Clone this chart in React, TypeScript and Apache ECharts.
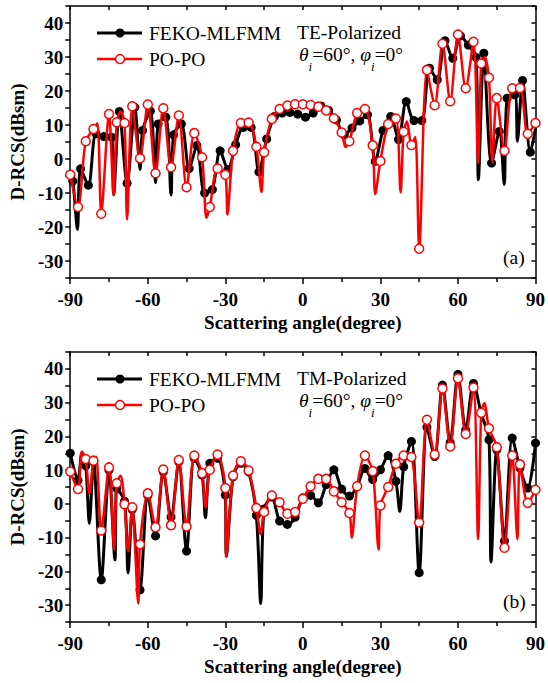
import React, { useEffect, useRef } from "react";
import * as echarts from "echarts";

// Marker angles (degrees)
const PO_ANGLES = [-90,-87,-84,-81,-78,-75,-72,-69,-66,-63,-60,-57,-54,-51,-48,-45,-42,-39,-36,-33,-30,-27,-24,-21,-18,-15,-12,-9,-6,-3,0,3,6,9,12,15,18,21,24,27,30,33,36,39,42,45,48,51,54,57,60,63,66,69,72,75,78,81,84,87,90];
const TE_FEKO_ANGLES = [-89,-86,-83,-80,-77,-74,-71,-68,-65,-62,-59,-56,-53,-50,-47,-44,-41,-38,-35,-32,-29,-26,-23,-20,-17,-14,-11,-8,-5,-2,1,4,7,10,13,16,19,22,25,28,31,34,37,40,43,46,49,52,55,58,61,64,67,70,73,76,79,82,85,88];
const TM_FEKO_ANGLES = PO_ANGLES;

// (a) TE-polarized
const TE_PO = [-4.6,-14.1,5.2,8.8,-16.1,13.2,10.8,10.6,15.5,0.2,16.0,-4.2,14.9,-2.4,12.8,-8.3,7.6,0.5,-14.1,-2.8,-4.6,2.4,10.6,10.7,3.6,2.0,11.8,14.7,15.7,16.1,16.1,15.9,15.4,14.3,12.0,7.8,5.2,13.5,14.7,4.0,-0.6,10.3,11.9,8.0,4.1,-26.4,26.2,15.8,33.9,17.0,36.6,20.8,34.5,28.1,23.9,17.9,2.4,20.8,20.9,7.4,10.6];
const TE_FEKO = [-6.5,-2.9,-7.7,7.4,6.6,6.4,14.0,-7.1,15.2,8.4,14.1,10.3,12.3,7.1,10.3,-2.8,4.0,-10.0,-9.0,2.4,-3.1,4.2,9.3,9.3,-3.8,5.9,12.5,13.5,13.7,13.2,12.3,13.5,15.6,14.3,11.5,7.1,9.1,11.2,13.0,-0.7,8.4,12.5,5.7,16.9,11.3,11.3,26.7,23.3,34.8,29.6,36.2,33.5,29.9,31.1,-1.2,8.1,17.9,18.9,23.1,2.0];
// curve points between markers (nulls / lobes): [angle, value]
const TE_PO_EXTRA = [[-79.5,10.5],[-73.2,-10.7],[-70.5,14],[-68,-17.8],[-37.3,-17.3],[-29.2,-16.3],[-16,-9.7],[16.5,3.5],[28,-10.3],[37.8,-9.8],[40.3,11],[43.5,6.5],[67.8,-1.2],[70.3,30],[73.3,-1]];
const TE_FEKO_EXTRA = [[-90,-6],[-87.2,-20.7],[-73.2,-10.5],[-63,-3.1],[-57,-7],[-51,-10.6],[67.9,-6.1],[77.9,-7.5],[83,5.2],[90,9]];

// (b) TM-polarized
const TM_PO = [9.6,4.4,13.3,12.8,-7.9,10.8,6.1,-0.1,-1.0,-12.0,3.1,-6.9,10.2,-6.3,13.0,-6.7,14.3,9.1,10.1,14.6,4.7,8.4,12.6,9.9,-1.2,-2.4,2.5,0.5,-2.9,-2.4,1.5,5.2,7.4,7.4,3.7,0.5,-2.7,5.2,14.3,9.7,-0.5,5.0,11.9,14.3,13.9,-5.5,24.9,14.6,34.2,17.0,37.2,20.7,34.5,27.0,22.4,16.8,-13.0,14.3,11.7,0.3,4.2];
const TM_FEKO = [15.0,7.0,11.3,12.5,-22.5,10.0,4.6,0.8,-1.7,-25.5,2.5,-9.5,9.5,-3.9,12.5,-14.0,13.5,8.5,12.0,13.5,2.6,8.0,12.0,9.5,-3.4,-1.5,2.0,-5.1,-6.1,-4.0,1.8,2.5,0.3,5.7,10.1,4.4,2.3,5.2,10.5,7.2,10.1,14.3,6.7,11.0,18.5,-20.4,22.7,14.0,35.2,18.2,38.4,21.9,35.7,26.8,19.0,16.0,-11.0,19.5,10.6,4.7,18.0];
const TM_PO_EXTRA = [[-85.5,15.5],[-82.6,3],[-80,14],[-73,-13.5],[-70.5,8.3],[-67.6,-14],[-63.7,-29.5],[-37.7,-1],[-29.6,-15.6],[-16.3,-9],[18.9,-10],[29.3,-13.5],[67.8,-10.5],[70.2,29.8],[83,-10.5]];
const TM_FEKO_EXTRA = [[-85.5,15],[-82.6,-5.8],[-72.7,-16.6],[-67.6,-20.5],[-37.7,-4.1],[-29.6,-15.6],[-16.3,-29.5],[37.5,-2.2],[72.8,-17.2]];

const X_MIN = -90, X_MAX = 90;
const Y_MIN = -35, Y_MAX = 45;
const SERIES_NAMES = ["FEKO-MLFMM", "PO-PO"];
const PANEL_TITLES = ["TE-Polarized", "TM-Polarized"];
const PANEL_TAGS = ["(a)", "(b)"];
const X_NAME = "Scattering angle(degree)";
const Y_NAME = "D-RCS(dBsm)";

const FONT = '"Liberation Serif","Times New Roman",serif';

function build(angles: number[], values: number[], extras: number[][]) {
  const pts: any[] = angles.map((a, i) => ({ value: [a, values[i]] }));
  const ex = extras.map(([a, v]) => ({ value: [a, v], symbol: "none" }));
  return pts.concat(ex).sort((p, q) => p.value[0] - q.value[0]);
}

const GRIDS = [
  { left: 64.5, top: 6, width: 474, height: 272 },
  { left: 64.5, top: 352, width: 474, height: 270 },
];

const axisLine = { onZero: false, lineStyle: { color: "#000", width: 1.5 } };
const tickLine = { color: "#000", width: 1.5 };

function xAxes(g: number) {
  return [
    {
      gridIndex: g, type: "value", position: "bottom", min: X_MIN, max: X_MAX, interval: 30,
      axisLine, axisTick: { length: 6, lineStyle: tickLine },
      minorTick: { show: true, splitNumber: 2, length: 4, lineStyle: tickLine },
      splitLine: { show: false }, minorSplitLine: { show: false },
      axisLabel: { margin: 12, color: "#000", fontFamily: FONT, fontWeight: "bold", fontSize: 19 },
      name: X_NAME, nameLocation: "middle", nameGap: 35,
      nameTextStyle: { color: "#000", fontFamily: FONT, fontWeight: "bold", fontSize: 19 },
    },
    {
      gridIndex: g, type: "value", position: "top", min: X_MIN, max: X_MAX, interval: 15,
      axisLine, axisTick: { inside: true, length: 4, lineStyle: tickLine },
      splitLine: { show: false }, axisLabel: { show: false },
    },
  ];
}

function yAxes(g: number) {
  return [
    {
      gridIndex: g, type: "value", position: "left", min: Y_MIN, max: Y_MAX, interval: 5,
      axisLine, axisTick: { length: 5, lineStyle: tickLine },
      splitLine: { show: false },
      axisLabel: {
        margin: 7, color: "#000", fontFamily: FONT, fontWeight: "bold", fontSize: 19,
        formatter: (v: number) => (v % 10 === 0 ? String(v) : ""),
      },
      name: Y_NAME, nameLocation: "middle", nameGap: 37, nameRotate: 90,
      nameTextStyle: { color: "#000", fontFamily: FONT, fontWeight: "bold", fontSize: 19 },
    },
    {
      gridIndex: g, type: "value", position: "right", min: Y_MIN, max: Y_MAX, interval: 5,
      axisLine, axisTick: { inside: true, length: 4, lineStyle: tickLine },
      splitLine: { show: false }, axisLabel: { show: false },
    },
  ];
}

function panelGraphics(g: number) {
  const T = GRIDS[g].top;
  const B = T + GRIDS[g].height;
  const txt = { fill: "#000", fontFamily: FONT, fontSize: 19.5 };
  const y1 = T + 27, y2 = T + 53;
  return [
    { type: "line", shape: { x1: 97, y1, x2: 142, y2: y1 }, style: { stroke: "#000", lineWidth: 3 } },
    { type: "circle", shape: { cx: 120, cy: y1, r: 4.5 }, style: { fill: "#000" } },
    { type: "text", x: 149, y: y1, style: { ...txt, text: SERIES_NAMES[0], verticalAlign: "middle" } },
    { type: "line", shape: { x1: 97, y1: y2, x2: 142, y2 }, style: { stroke: "#ff0000", lineWidth: 2.5 } },
    { type: "circle", shape: { cx: 120, cy: y2, r: 4.5 }, style: { fill: "#fff", stroke: "#ff0000", lineWidth: 1.5 } },
    { type: "text", x: 149, y: y2, style: { ...txt, text: SERIES_NAMES[1], verticalAlign: "middle" } },
    { type: "text", x: 297, y: T + 26, style: { ...txt, text: PANEL_TITLES[g], verticalAlign: "middle" } },
    {
      type: "text", x: 299, y: T + 29.5,
      style: {
        ...txt, verticalAlign: "top",
        text: "{it|θ}{sub|i}{n|=60°, }{it|φ}{sub|i}{n|=0°}",
        rich: {
          it: { fontFamily: FONT, fontSize: 19.5, fontStyle: "italic", lineHeight: 37, verticalAlign: "middle", fill: "#000" },
          n: { fontFamily: FONT, fontSize: 19.5, lineHeight: 37, verticalAlign: "middle", fill: "#000" },
          sub: { fontFamily: FONT, fontSize: 13, fontStyle: "italic", verticalAlign: "bottom", fill: "#000" },
        },
      },
    },
    { type: "text", x: 503, y: B - 21, style: { ...txt, text: PANEL_TAGS[g], verticalAlign: "middle" } },
  ];
}

function series(g: number, fekoAngles: number[], feko: number[], fekoEx: number[][], po: number[], poEx: number[][]) {
  return [
    {
      name: SERIES_NAMES[0], type: "line", xAxisIndex: g * 2, yAxisIndex: g * 2,
      data: build(fekoAngles, feko, fekoEx), smooth: 0.3, showAllSymbol: true,
      symbol: "circle", symbolSize: 9,
      lineStyle: { color: "#000", width: 3 }, itemStyle: { color: "#000" },
      z: 2,
    },
    {
      name: SERIES_NAMES[1], type: "line", xAxisIndex: g * 2, yAxisIndex: g * 2,
      data: build(PO_ANGLES, po, poEx), smooth: 0.3, showAllSymbol: true,
      symbol: "circle", symbolSize: 9,
      lineStyle: { color: "#ff0000", width: 2.5 },
      itemStyle: { color: "#fff", borderColor: "#ff0000", borderWidth: 1.5 },
      z: 3,
    },
  ];
}

export default function App() {
  const ref = useRef<HTMLDivElement>(null);
  useEffect(() => {
    if (!ref.current) return;
    const chart = echarts.init(ref.current, undefined, { renderer: "svg" });
    chart.setOption({
      animation: false,
      backgroundColor: "#fff",
      grid: GRIDS,
      xAxis: [...xAxes(0), ...xAxes(1)],
      yAxis: [...yAxes(0), ...yAxes(1)],
      series: [
        ...series(0, TE_FEKO_ANGLES, TE_FEKO, TE_FEKO_EXTRA, TE_PO, TE_PO_EXTRA),
        ...series(1, TM_FEKO_ANGLES, TM_FEKO, TM_FEKO_EXTRA, TM_PO, TM_PO_EXTRA),
      ],
      graphic: [...panelGraphics(0), ...panelGraphics(1)],
    });
    return () => chart.dispose();
  }, []);
  return (
    <div
      ref={ref}
      style={{ position: "fixed", left: 0, top: 0, width: 548, height: 683, background: "#fff" }}
    />
  );
}
